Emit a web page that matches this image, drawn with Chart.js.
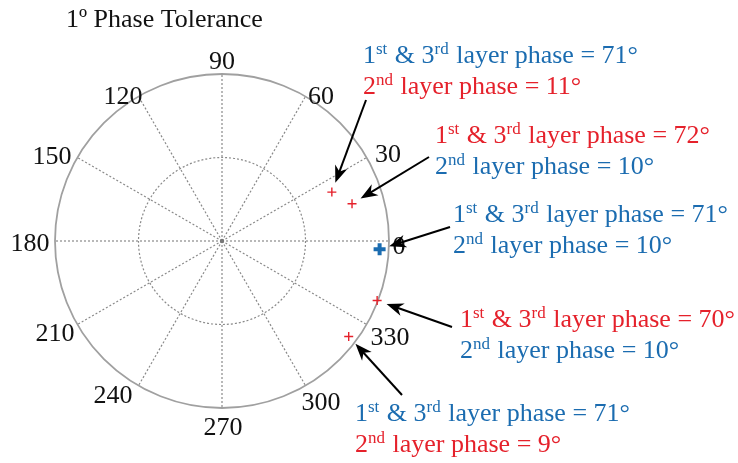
<!DOCTYPE html>
<html lang="en">
<head>
    <meta charset="UTF-8">
    <title>1º Phase Tolerance</title>
    <script src="https://cdn.jsdelivr.net/npm/chart.js"></script>
    <style>
        body { margin: 0; background: #ffffff; }
        #wrap { width: 738px; height: 463px; }
    </style>
</head>
<body>
    <div id="wrap"><canvas id="polarChart" width="738" height="463"></canvas></div>

    <script>
        // data (angle in degrees, radius normalised to outer ring)
        const angleTicks = [0, 30, 60, 90, 120, 150, 180, 210, 240, 270, 300, 330];
        const ringTicks = [0.5, 1];
        const redAngles = [24, 16, -21, -37];
        const redRadii = [0.72, 0.81, 0.995, 0.95];
        const blueAngles = [-3];
        const blueRadii = [0.945];

        // annotation texts: parts with superscripts marked by "^"
        const noteLines = [
            [["1", "^st", " & 3", "^rd", " layer phase = 71°"], ["2", "^nd", " layer phase = 11°"]],
            [["1", "^st", " & 3", "^rd", " layer phase = 72°"], ["2", "^nd", " layer phase = 10°"]],
            [["1", "^st", " & 3", "^rd", " layer phase = 71°"], ["2", "^nd", " layer phase = 10°"]],
            [["1", "^st", " & 3", "^rd", " layer phase = 70°"], ["2", "^nd", " layer phase = 10°"]],
            [["1", "^st", " & 3", "^rd", " layer phase = 71°"], ["2", "^nd", " layer phase = 9°"]]
        ];
        const noteColors = [
            ["blue", "red"], ["red", "blue"], ["blue", "blue"], ["red", "blue"], ["blue", "red"]
        ];
        // which point each note points at: [dataset, index]
        const noteTargets = [[0, 0], [0, 1], [1, 0], [0, 2], [0, 3]];

        const BLUE = "#1b6cb0";
        const RED = "#e5212b";

        function toXY(angles, radii) {
            return angles.map((a, i) => ({
                x: radii[i] * Math.cos(a * Math.PI / 180),
                y: radii[i] * Math.sin(a * Math.PI / 180)
            }));
        }

        // layout: where each angle label sits, px from centre (same order as angleTicks)
        const labelOffsets = [
            [177, 5], [166, -87], [99, -145], [0, -180], [-99, -145], [-170, -85],
            [-192, 2], [-167, 92], [-109, 154], [1, 186], [99, 161], [168, 96]
        ];
        // layout of the notes (text origin, baseline, arrow tail)
        const noteLayout = [
            { x: 363, y: 63, tail: [366, 100] },
            { x: 435, y: 143, tail: [429, 157] },
            { x: 453, y: 222, tail: [450, 227] },
            { x: 460, y: 327, tail: [452, 327] },
            { x: 355, y: 421, tail: [402, 395] }
        ];

        function drawRich(ctx, x, y, parts, color) {
            ctx.fillStyle = color;
            ctx.textAlign = "left";
            ctx.textBaseline = "alphabetic";
            let cx = x;
            parts.forEach(p => {
                if (p[0] === "^") {
                    ctx.font = "17px 'Liberation Serif', serif";
                    ctx.fillText(p.slice(1), cx, y - 9);
                    cx += ctx.measureText(p.slice(1)).width + 1;
                } else {
                    ctx.font = "26px 'Liberation Serif', serif";
                    ctx.fillText(p, cx, y);
                    cx += ctx.measureText(p).width;
                }
            });
        }

        const polarGrid = {
            id: "polarGrid",
            beforeDatasetsDraw(chart) {
                const ctx = chart.ctx;
                const xs = chart.scales.x, ys = chart.scales.y;
                const cx = xs.getPixelForValue(0), cy = ys.getPixelForValue(0);
                const R = xs.getPixelForValue(1) - cx;
                ctx.save();
                // spokes
                ctx.strokeStyle = "#8a8a8a";
                ctx.lineWidth = 1.2;
                ctx.setLineDash([2, 2]);
                angleTicks.forEach(a => {
                    const t = a * Math.PI / 180;
                    ctx.beginPath();
                    ctx.moveTo(cx, cy);
                    ctx.lineTo(cx + R * Math.cos(t), cy - R * Math.sin(t));
                    ctx.stroke();
                });
                ringTicks.slice(0, -1).forEach(r => {
                    ctx.beginPath();
                    ctx.arc(cx, cy, r * R, 0, Math.PI * 2);
                    ctx.stroke();
                });
                // outer ring
                ctx.setLineDash([]);
                ctx.strokeStyle = "#a0a0a0";
                ctx.lineWidth = 1.8;
                ctx.beginPath();
                ctx.arc(cx, cy, R, 0, Math.PI * 2);
                ctx.stroke();
                // centre dot
                ctx.fillStyle = "#777";
                ctx.beginPath();
                ctx.arc(cx, cy, 2.2, 0, Math.PI * 2);
                ctx.fill();
                // angle labels
                ctx.fillStyle = "#111";
                ctx.font = "26px 'Liberation Serif', serif";
                ctx.textAlign = "center";
                ctx.textBaseline = "middle";
                angleTicks.forEach((a, i) => {
                    ctx.fillText(String(a), cx + labelOffsets[i][0], cy + labelOffsets[i][1] + 1);
                });
                // title
                ctx.textAlign = "left";
                ctx.textBaseline = "alphabetic";
                ctx.font = "26px 'Liberation Serif', serif";
                ctx.fillText("1º Phase Tolerance", 66, 27);
                ctx.restore();
            },
            afterDatasetsDraw(chart) {
                const ctx = chart.ctx;
                ctx.save();
                noteLines.forEach((lines, i) => {
                    const lay = noteLayout[i];
                    lines.forEach((parts, j) => {
                        drawRich(ctx, lay.x, lay.y + j * 31, parts, noteColors[i][j] === "blue" ? BLUE : RED);
                    });
                    // arrow from text to point
                    const [ds, idx] = noteTargets[i];
                    const pt = chart.getDatasetMeta(ds).data[idx];
                    const dx = lay.tail[0] - pt.x, dy = lay.tail[1] - pt.y;
                    const len = Math.hypot(dx, dy);
                    const ux = dx / len, uy = dy / len;
                    const tipX = pt.x + ux * 10, tipY = pt.y + uy * 10;
                    ctx.strokeStyle = "#000";
                    ctx.fillStyle = "#000";
                    ctx.lineWidth = 2;
                    ctx.beginPath();
                    ctx.moveTo(lay.tail[0], lay.tail[1]);
                    ctx.lineTo(tipX + ux * 10, tipY + uy * 10);
                    ctx.stroke();
                    const hl = 17, hw = 6.5;
                    const bx = tipX + ux * hl, by = tipY + uy * hl;
                    ctx.beginPath();
                    ctx.moveTo(tipX, tipY);
                    ctx.lineTo(bx - uy * hw, by + ux * hw);
                    ctx.lineTo(tipX + ux * hl * 0.7, tipY + uy * hl * 0.7);
                    ctx.lineTo(bx + uy * hw, by - ux * hw);
                    ctx.closePath();
                    ctx.fill();
                });
                ctx.restore();
            }
        };

        new Chart(document.getElementById("polarChart"), {
            type: "scatter",
            data: {
                datasets: [
                    {
                        label: "red",
                        data: toXY(redAngles, redRadii),
                        pointStyle: "cross",
                        radius: 4.5,
                        borderColor: RED,
                        borderWidth: 1.4
                    },
                    {
                        label: "blue",
                        data: toXY(blueAngles, blueRadii),
                        pointStyle: "cross",
                        radius: 6,
                        borderColor: BLUE,
                        borderWidth: 4
                    }
                ]
            },
            options: {
                responsive: false,
                animation: false,
                layout: { padding: { left: 55, right: 349, top: 74, bottom: 55 } },
                scales: {
                    x: { display: false, min: -1, max: 1 },
                    y: { display: false, min: -1, max: 1 }
                },
                plugins: {
                    legend: { display: false },
                    tooltip: { enabled: false }
                }
            },
            plugins: [polarGrid]
        });
    </script>
</body>
</html>
